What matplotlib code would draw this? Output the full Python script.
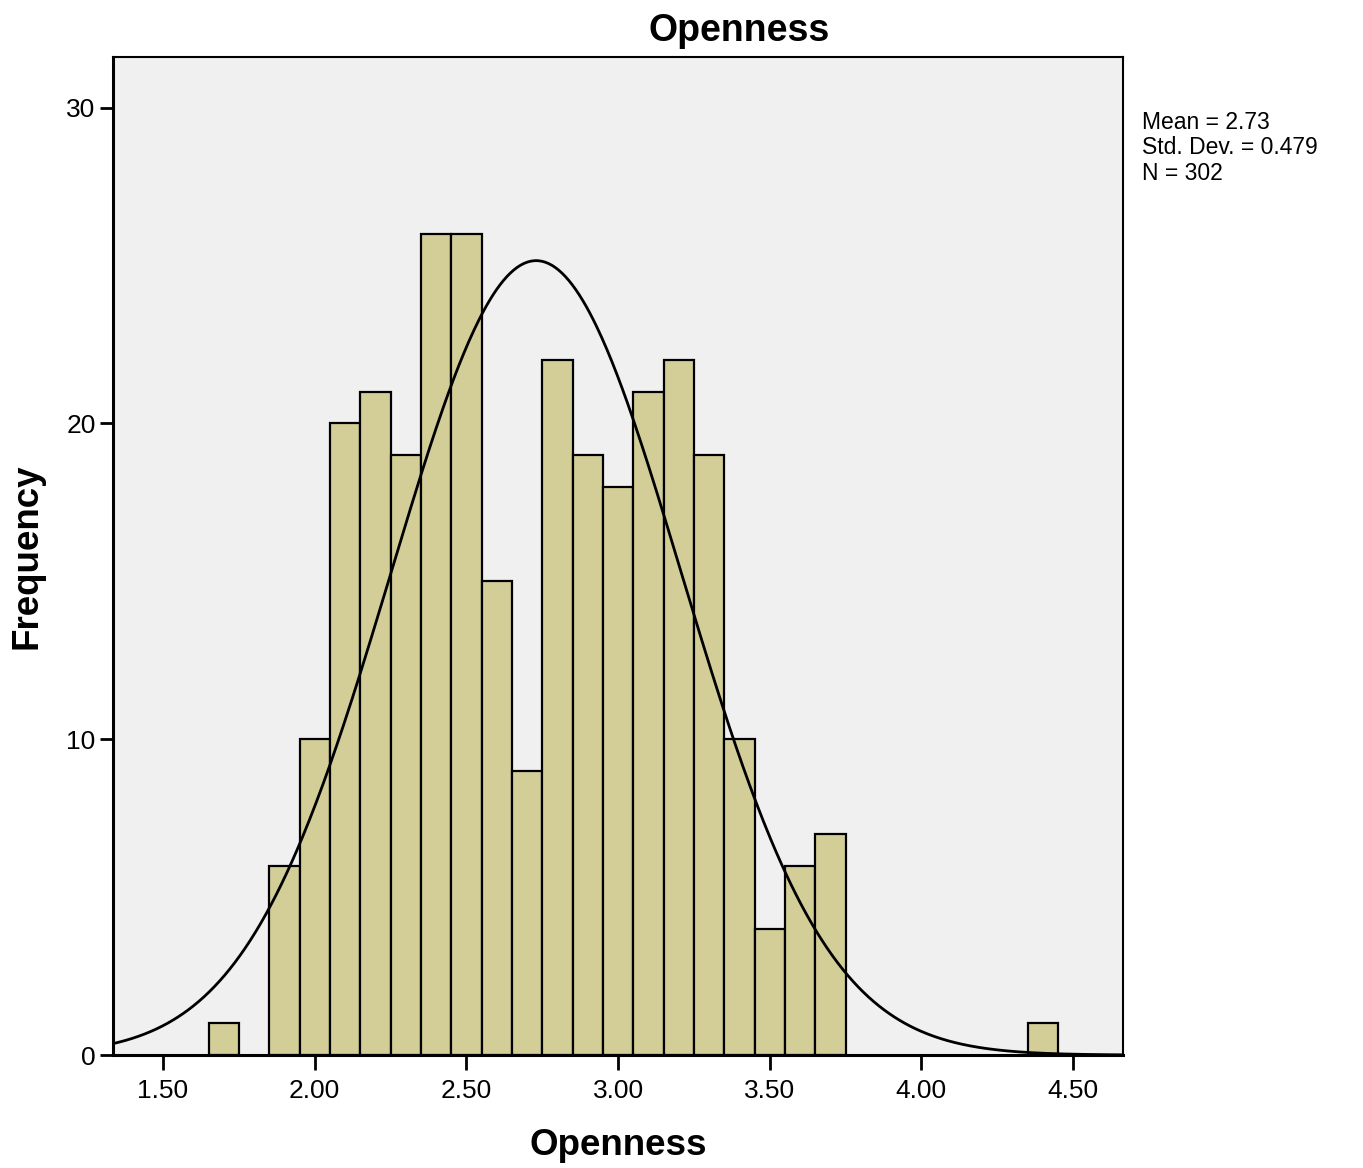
import numpy as np
import matplotlib
matplotlib.use("Agg")
import matplotlib.pyplot as plt

# Данные гистограммы: центры интервалов и частоты
bin_centers = [1.70, 1.90, 2.00, 2.10, 2.20, 2.30, 2.40, 2.50, 2.60, 2.70,
               2.80, 2.90, 3.00, 3.10, 3.20, 3.30, 3.40, 3.50, 3.60, 3.70, 4.40]
counts = [1, 6, 10, 20, 21, 19, 26, 26, 15, 9,
          22, 19, 18, 21, 22, 19, 10, 4, 6, 7, 1]
bin_width = 0.1

mean = 2.73
std = 0.479
n = 302

x_ticks = [1.50, 2.00, 2.50, 3.00, 3.50, 4.00, 4.50]
y_ticks = [0, 10, 20, 30]

plt.rcParams['font.family'] = ['Liberation Sans', 'DejaVu Sans']

fig = plt.figure(figsize=(13.63, 11.68), dpi=100)
ax = fig.add_axes([0.0829, 0.0967, 0.7411, 0.8545])
ax.set_facecolor('#F0F0F0')

# Столбцы
ax.bar(bin_centers, counts, width=bin_width, color='#D3CE97',
       edgecolor='black', linewidth=1.6, zorder=2)

# Нормальная кривая
xs = np.linspace(1.3, 4.7, 600)
ys = n * bin_width * np.exp(-0.5 * ((xs - mean) / std) ** 2) / (std * np.sqrt(2 * np.pi))
ax.plot(xs, ys, color='black', linewidth=2.0, zorder=3)

ax.set_xlim(1.335, 4.665)
ax.set_ylim(0, 31.6)
ax.set_xticks(x_ticks)
ax.set_xticklabels([f"{t:.2f}" for t in x_ticks])
ax.set_yticks(y_ticks)

ax.tick_params(axis='both', labelsize=19, width=2, direction='out')
ax.tick_params(axis='y', length=9.5, pad=3)
ax.tick_params(axis='x', length=11, pad=6)

for side in ['top', 'right']:
    ax.spines[side].set_linewidth(1.5)
for side in ['left', 'bottom']:
    ax.spines[side].set_linewidth(2.2)

# Заголовок в SPSS смещён вправо относительно центра осей
fig.text(0.542, 0.9735, "Openness", fontsize=27, fontweight='bold',
         ha='center', va='center')
ax.set_xlabel("Openness", fontsize=26.5, fontweight='bold', labelpad=18)
ax.set_ylabel("Frequency", fontsize=26.5, fontweight='bold', labelpad=16)

fig.text(0.8375, 0.905, f"Mean = {mean:.2f}\nStd. Dev. = {std:.3f}\nN = {n}",
         fontsize=16.5, va='top', ha='left', linespacing=1.13)

fig.savefig("out.png", dpi=100)
